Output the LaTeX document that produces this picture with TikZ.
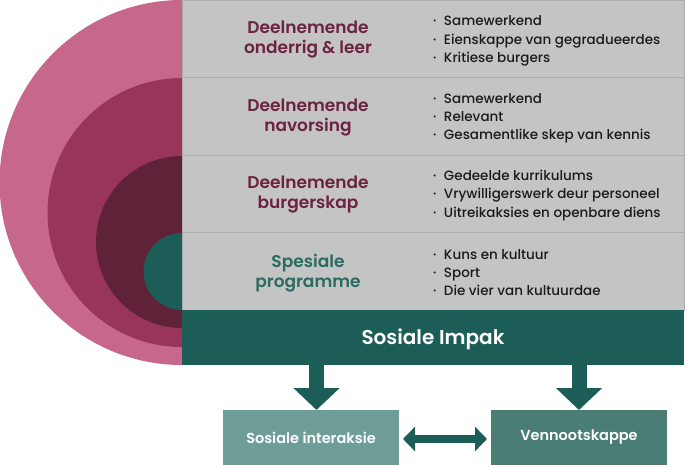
\documentclass[tikz,border=0pt]{standalone}
\usepackage{fontspec}
\setmainfont{Poppins}[UprightFont={* Medium}, BoldFont={* SemiBold}]
\usetikzlibrary{arrows.meta}
\definecolor{pinkA}{HTML}{C8678C}
\definecolor{pinkB}{HTML}{99355A}
\definecolor{pinkC}{HTML}{5F2239}
\definecolor{tealD}{HTML}{1C5E57}
\definecolor{maroonT}{HTML}{6B2340}
\definecolor{tealT}{HTML}{2B6B61}
\definecolor{panelgray}{HTML}{C4C4C4}
\definecolor{linegray}{HTML}{ACACAC}
\definecolor{boxL}{HTML}{6E9E97}
\definecolor{boxR}{HTML}{4A7E75}
\definecolor{bodytext}{HTML}{1A1A1A}
\tikzset{
  rowbox/.style={fill=panelgray, draw=linegray, line width=0.8pt, minimum width=502pt, minimum height=77.5pt, anchor=north west, inner sep=0pt, outer sep=0pt},
  rowtitle/.style={font=\bfseries\fontsize{17}{20}\selectfont, align=center, text=maroonT, inner sep=0pt},
  bullets/.style={font=\fontsize{13.5}{18.2}\selectfont, align=left, text=bodytext, anchor=west, inner sep=0pt},
  impakbar/.style={fill=tealD, minimum width=502pt, minimum height=55pt, anchor=north west, inner sep=0pt, outer sep=0pt, text=white, font=\bfseries\fontsize{20}{22}\selectfont},
  lowbox/.style={minimum width=176pt, minimum height=55pt, anchor=north west, inner sep=0pt, outer sep=0pt, text=white, font=\bfseries\fontsize{14.5}{16}\selectfont},
  bigarrow/.style={draw=tealD, line width=15pt, -{Triangle[width=45pt,length=22pt]}},
  dblarrow/.style={draw=tealD, line width=8pt, {Triangle[width=24pt,length=12pt]}-{Triangle[width=24pt,length=12pt]}, shorten <=4pt, shorten >=4pt}
}
\newcommand{\bul}{\textperiodcentered\hspace{7.5pt}}
\begin{document}
\begin{tikzpicture}[x=1pt,y=-1pt]
\useasboundingbox (0,0) rectangle (699,465);
\begin{scope}
\clip (0,0) rectangle (182,366);
\fill[pinkA] (182,182.5) circle[radius=182.5pt];
\fill[pinkB] (182,212.5) circle[radius=134.5pt];
\fill[pinkC] (182,242) circle[radius=86pt];
\fill[tealD] (182,271.5) circle[radius=38.5pt];
\end{scope}
\node[rowbox] (r1) at (182,0) {};
\node[rowbox] (r2) at (182,77.5) {};
\node[rowbox] (r3) at (182,155) {};
\node[rowbox] (r4) at (182,232.5) {};
\node[rowtitle] (t1) at (308,40) {Deelnemende\\onderrig \& leer};
\node[rowtitle] (t2) at (308,118) {Deelnemende\\navorsing};
\node[rowtitle] (t3) at (308,195) {Deelnemende\\burgerskap};
\node[rowtitle, text=tealT] (t4) at (308,273) {Spesiale\\programme};
\node[bullets] (b1) at (433,41) {\bul Samewerkend\\\bul Eienskappe van gegradueerdes\\\bul Kritiese burgers};
\node[bullets] (b2) at (433,118) {\bul Samewerkend\\\bul Relevant\\\bul Gesamentlike skep van kennis};
\node[bullets] (b3) at (433,195.5) {\bul Gedeelde kurrikulums\\\bul Vrywilligerswerk deur personeel\\\bul Uitreikaksies en openbare diens};
\node[bullets] (b4) at (433,272.5) {\bul Kuns en kultuur\\\bul Sport\\\bul Die vier van kultuurdae};
\node[impakbar, text depth=2pt] (impak) at (182,310) {Sosiale Impak};
\node[lowbox, fill=boxL] (inter) at (223,410) {Sosiale interaksie};
\node[lowbox, fill=boxR] (venn) at (491,410) {Vennootskappe};
\draw[bigarrow] ([xshift=5.5pt]inter.north |- impak.south) -- ([xshift=5.5pt]inter.north);
\draw[bigarrow] (venn.north |- impak.south) -- (venn.north);
\draw[dblarrow] ([yshift=-1.5pt]inter.east) -- ([yshift=-1.5pt]venn.west);
\end{tikzpicture}
\end{document}
